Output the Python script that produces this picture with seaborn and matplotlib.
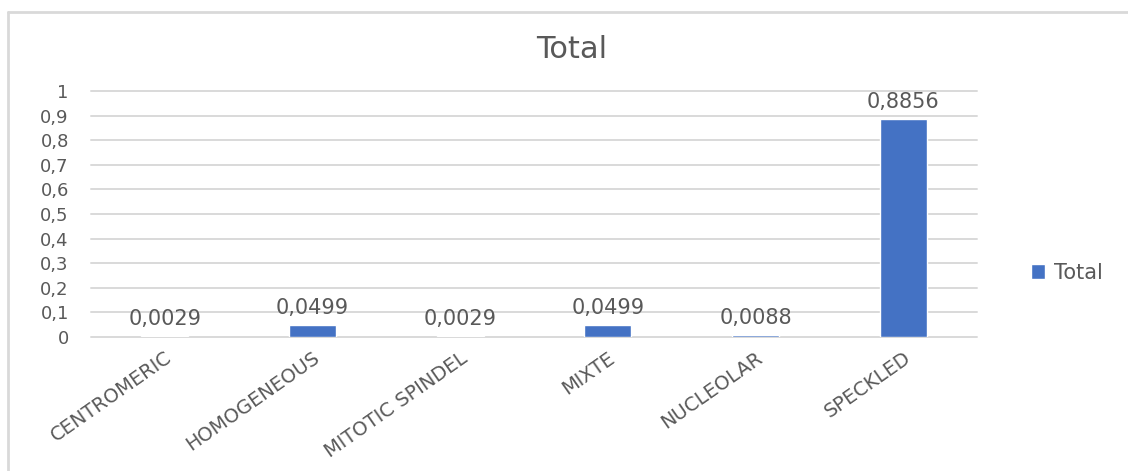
import matplotlib
matplotlib.use("Agg")
import matplotlib.pyplot as plt
import seaborn as sns
import pandas as pd
from matplotlib.lines import Line2D
from matplotlib.ticker import FuncFormatter, MultipleLocator

categorias = ["CENTROMERIC", "HOMOGENEOUS", "MITOTIC SPINDEL", "MIXTE", "NUCLEOLAR", "SPECKLED"]
valores = [0.0029, 0.0499, 0.0029, 0.0499, 0.0088, 0.8856]
serie = "Total"

datos = pd.DataFrame({"categoria": categorias, "valor": valores})

sns.set_style("white")
plt.rcParams["font.family"] = ["DejaVu Sans"]
gris = "#595959"
azul = "#4472C4"


def coma(v, pos=None):
    if abs(v - round(v)) < 1e-9:
        return str(int(round(v)))
    return f"{v:.1f}".replace(".", ",")


fig = plt.figure(figsize=(11.28, 4.71), dpi=100)
ax = fig.add_axes([91 / 1128, 1 - 337 / 471, (977 - 91) / 1128, (337 - 91) / 471])

sns.barplot(data=datos, x="categoria", y="valor", color=azul, width=0.32,
            saturation=1, ax=ax, label=serie)

ax.set_ylim(0, 1)
ax.yaxis.set_major_locator(MultipleLocator(0.1))
ax.yaxis.set_major_formatter(FuncFormatter(coma))
ax.grid(axis="y", color="#d9d9d9", linewidth=1.4)
for g in ax.get_ygridlines():
    g.set_clip_on(False)
ax.set_axisbelow(True)
for s in ax.spines.values():
    s.set_visible(False)
ax.tick_params(axis="both", length=0, colors=gris)
ax.tick_params(axis="y", labelsize=13, pad=16)
ax.tick_params(axis="x", labelsize=14, pad=8)
for t in ax.get_xticklabels():
    t.set_rotation(35)
    t.set_horizontalalignment("right")
    t.set_rotation_mode("anchor")
ax.set_xlabel("")
ax.set_ylabel("")

etiquetas = [f"{v:.4f}".replace(".", ",") for v in valores]
ax.bar_label(ax.containers[0], labels=etiquetas, padding=5, fontsize=15, color=gris)

ax.legend(loc="center left", bbox_to_anchor=(1012 / 1128, 1 - 273 / 471),
          bbox_transform=fig.transFigure, frameon=False, fontsize=15,
          labelcolor=gris, handlelength=0.7, handleheight=0.7, handletextpad=0.4)

fig.text(572 / 1128, 1 - 50 / 471, "Total", ha="center", va="center", fontsize=22, color=gris)

# marco del grafico (solo arriba e izquierda visibles)
borde = "#d9d9d9"
fig.add_artist(Line2D([8 / 1128, 1], [1 - 12 / 471, 1 - 12 / 471], transform=fig.transFigure, color=borde, linewidth=2))
fig.add_artist(Line2D([8 / 1128, 8 / 1128], [0, 1 - 12 / 471], transform=fig.transFigure, color=borde, linewidth=2))

fig.savefig("out.png", dpi=100)
